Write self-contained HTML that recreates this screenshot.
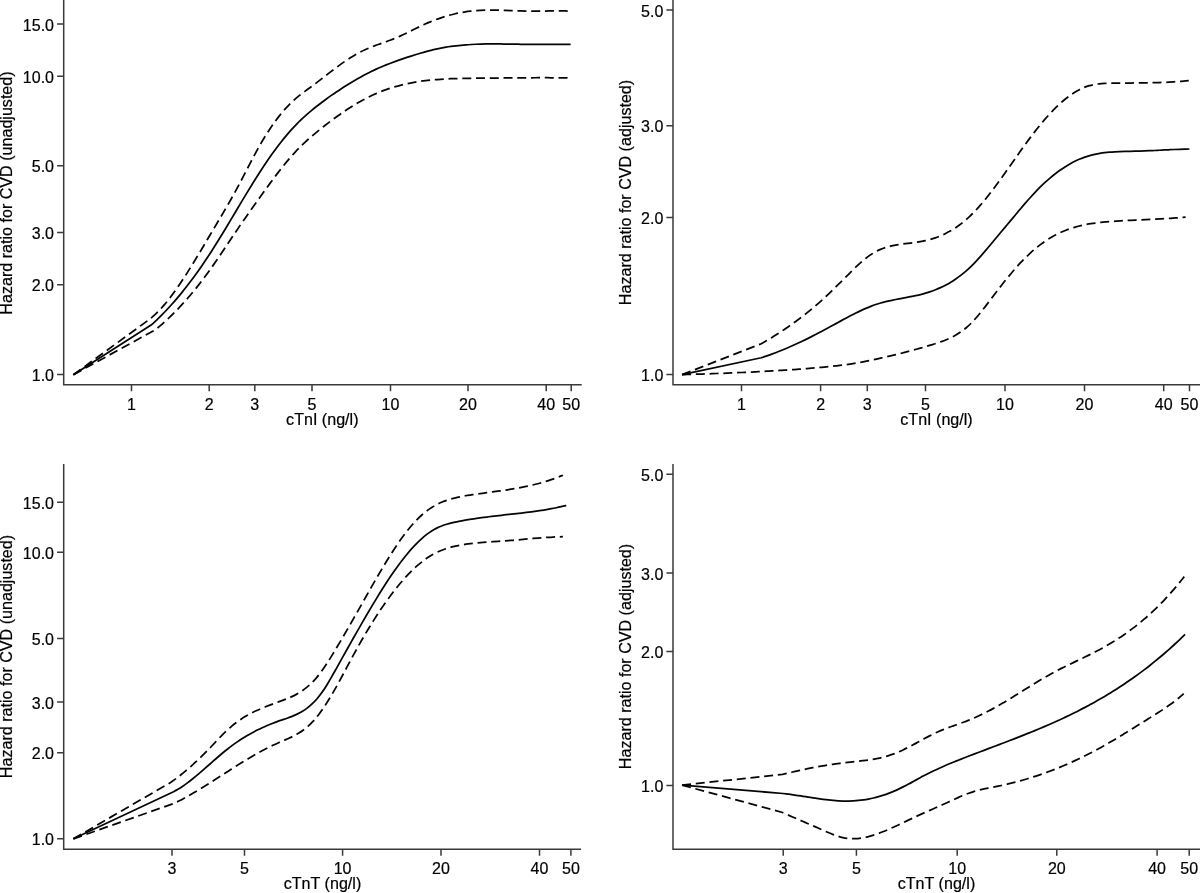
<!DOCTYPE html>
<html lang="en">
<head>
<meta charset="utf-8">
<title>Hazard ratio for CVD by cTnI and cTnT</title>
<style>
html,body{margin:0;padding:0;background:#fff;}
body{width:1200px;height:893px;overflow:hidden;}
svg{display:block;}
text{font-family:"Liberation Sans",Arial,Helvetica,sans-serif;fill:#000;stroke:#000;stroke-width:0.2px;}
.t{font-size:16px;}
.l{font-size:15.6px;}
.ax{stroke:#3a3a3a;stroke-width:1.5;fill:none;}
.s{stroke:#050505;stroke-width:1.75;fill:none;stroke-linejoin:round;}
.d{stroke:#050505;stroke-width:1.75;fill:none;stroke-dasharray:9 4.75;stroke-linejoin:round;}
</style>
</head>
<body>
<svg width="1200" height="893" viewBox="0 0 1200 893">
<rect x="0" y="0" width="1200" height="893" fill="#fff"/>
<g id="panel1">
<path class="ax" d="M63.70 0.00 V384.70 H581.70"/>
<path class="ax" d="M63.70 24.00 h-6.60 M63.70 76.30 h-6.60 M63.70 165.70 h-6.60 M63.70 232.50 h-6.60 M63.70 284.80 h-6.60 M63.70 374.40 h-6.60 M131.50 384.70 v6.60 M209.20 384.70 v6.60 M254.80 384.70 v6.60 M312.00 384.70 v6.60 M390.50 384.70 v6.60 M468.00 384.70 v6.60 M546.20 384.70 v6.60 M571.20 384.70 v6.60"/>
<text class="t" x="54.00" y="30.60" text-anchor="end">15.0</text>
<text class="t" x="54.00" y="82.90" text-anchor="end">10.0</text>
<text class="t" x="54.00" y="172.30" text-anchor="end">5.0</text>
<text class="t" x="54.00" y="239.10" text-anchor="end">3.0</text>
<text class="t" x="54.00" y="291.40" text-anchor="end">2.0</text>
<text class="t" x="54.00" y="381.00" text-anchor="end">1.0</text>
<text class="t" x="131.50" y="409.70" text-anchor="middle">1</text>
<text class="t" x="209.20" y="409.70" text-anchor="middle">2</text>
<text class="t" x="254.80" y="409.70" text-anchor="middle">3</text>
<text class="t" x="312.00" y="409.70" text-anchor="middle">5</text>
<text class="t" x="390.50" y="409.70" text-anchor="middle">10</text>
<text class="t" x="468.00" y="409.70" text-anchor="middle">20</text>
<text class="t" x="546.20" y="409.70" text-anchor="middle">40</text>
<text class="t" x="571.20" y="409.70" text-anchor="middle">50</text>
<text class="l" transform="translate(322.30 425.00) scale(1.0320 1)" text-anchor="middle">cTnI (ng/l)</text>
<text class="l" transform="translate(12.00 193.00) rotate(-90) scale(1.0320 1)" text-anchor="middle">Hazard ratio for CVD (unadjusted)</text>
<path class="d" d="M73.40 374.70 L149.40 319.40  C150.24 318.70 152.74 316.71 154.41 315.19 C156.09 313.66 157.76 312.01 159.43 310.25 C161.10 308.49 162.77 306.62 164.44 304.65 C166.11 302.69 167.79 300.61 169.46 298.46 C171.13 296.31 172.80 294.06 174.47 291.75 C176.14 289.43 177.81 287.03 179.49 284.58 C181.16 282.12 182.83 279.59 184.50 277.02 C186.17 274.45 187.84 271.81 189.51 269.14 C191.19 266.47 192.86 263.75 194.53 261.01 C196.20 258.27 197.87 255.49 199.54 252.70 C201.21 249.91 202.89 247.09 204.56 244.27 C206.23 241.45 207.90 238.61 209.57 235.79 C211.24 232.97 212.91 230.15 214.59 227.33 C216.26 224.51 217.93 221.71 219.60 218.88 C221.27 216.06 222.94 213.23 224.61 210.37 C226.29 207.50 227.96 204.62 229.63 201.69 C231.30 198.75 232.97 195.79 234.64 192.75 C236.31 189.71 237.99 186.61 239.66 183.46 C241.33 180.31 243.00 177.06 244.67 173.83 C246.34 170.61 248.01 167.32 249.69 164.11 C251.36 160.90 253.03 157.67 254.70 154.57 C256.37 151.47 258.04 148.42 259.71 145.49 C261.39 142.57 263.06 139.74 264.73 137.02 C266.40 134.30 268.07 131.69 269.74 129.17 C271.41 126.66 273.09 124.25 274.76 121.95 C276.43 119.64 278.10 117.44 279.77 115.34 C281.44 113.25 283.11 111.25 284.79 109.36 C286.46 107.47 288.13 105.69 289.80 104.01 C291.47 102.33 293.14 100.76 294.81 99.28 C296.49 97.80 298.16 96.46 299.83 95.14 C301.50 93.82 303.17 92.61 304.84 91.38 C306.51 90.15 308.19 88.97 309.86 87.74 C311.53 86.51 313.20 85.26 314.87 84.00 C316.54 82.74 318.21 81.46 319.89 80.17 C321.56 78.89 323.23 77.59 324.90 76.29 C326.57 75.00 328.24 73.70 329.91 72.42 C331.59 71.14 333.26 69.86 334.93 68.61 C336.60 67.35 338.27 66.11 339.94 64.90 C341.61 63.69 343.29 62.50 344.96 61.35 C346.63 60.21 348.30 59.09 349.97 58.02 C351.64 56.95 353.31 55.92 354.99 54.94 C356.66 53.97 358.33 53.05 360.00 52.18 C361.67 51.32 363.34 50.52 365.01 49.76 C366.69 49.00 368.36 48.30 370.03 47.63 C371.70 46.95 373.37 46.32 375.04 45.69 C376.71 45.06 378.39 44.47 380.06 43.87 C381.73 43.27 383.40 42.69 385.07 42.09 C386.74 41.49 388.41 40.90 390.09 40.27 C391.76 39.64 393.43 39.00 395.10 38.32 C396.77 37.63 398.44 36.91 400.11 36.16 C401.79 35.41 403.46 34.61 405.13 33.80 C406.80 33.00 408.47 32.16 410.14 31.33 C411.81 30.50 413.49 29.64 415.16 28.81 C416.83 27.98 418.50 27.15 420.17 26.35 C421.84 25.55 423.51 24.76 425.19 24.01 C426.86 23.26 428.53 22.54 430.20 21.85 C431.87 21.16 433.54 20.49 435.21 19.86 C436.89 19.23 438.56 18.62 440.23 18.05 C441.90 17.48 443.57 16.94 445.24 16.43 C446.91 15.92 448.59 15.44 450.26 14.99 C451.93 14.54 453.60 14.13 455.27 13.74 C456.94 13.36 458.61 13.01 460.29 12.69 C461.96 12.38 463.63 12.09 465.30 11.84 C466.97 11.59 468.64 11.37 470.31 11.18 C471.99 10.99 473.66 10.84 475.33 10.71 C477.00 10.57 478.67 10.47 480.34 10.39 C482.01 10.30 483.69 10.25 485.36 10.20 C487.03 10.16 488.70 10.14 490.37 10.13 C492.04 10.13 493.71 10.14 495.39 10.16 C497.06 10.18 498.73 10.21 500.40 10.25 C502.07 10.29 503.74 10.34 505.41 10.39 C507.09 10.45 508.76 10.51 510.43 10.57 C512.10 10.62 513.77 10.69 515.44 10.74 C517.11 10.80 518.79 10.86 520.46 10.90 C522.13 10.95 523.80 11.00 525.47 11.03 C527.14 11.06 528.81 11.08 530.49 11.10 C532.16 11.11 533.83 11.11 535.50 11.11 C537.17 11.11 538.84 11.09 540.51 11.08 C542.19 11.07 543.86 11.05 545.53 11.03 C547.20 11.02 548.87 11.00 550.54 10.98 C552.21 10.97 553.89 10.95 555.56 10.94 C557.23 10.94 558.90 10.93 560.57 10.94 C562.24 10.95 563.91 10.96 565.59 10.99 C567.26 11.01 569.76 11.08 570.60 11.10"/>
<path class="d" d="M73.40 374.70 L155.00 330.00  C155.83 329.32 158.34 327.31 160.01 325.90 C161.68 324.49 163.35 323.03 165.01 321.52 C166.68 320.01 168.35 318.46 170.02 316.86 C171.69 315.26 173.36 313.61 175.03 311.92 C176.70 310.23 178.37 308.49 180.04 306.71 C181.71 304.92 183.37 303.09 185.04 301.21 C186.71 299.34 188.38 297.42 190.05 295.45 C191.72 293.48 193.39 291.47 195.06 289.41 C196.73 287.35 198.40 285.25 200.07 283.10 C201.73 280.95 203.40 278.76 205.07 276.52 C206.74 274.28 208.41 272.00 210.08 269.67 C211.75 267.34 213.42 264.96 215.09 262.55 C216.76 260.14 218.42 257.68 220.09 255.21 C221.76 252.75 223.43 250.24 225.10 247.74 C226.77 245.24 228.44 242.72 230.11 240.22 C231.78 237.72 233.45 235.21 235.12 232.74 C236.78 230.27 238.45 227.81 240.12 225.38 C241.79 222.96 243.46 220.56 245.13 218.17 C246.80 215.78 248.47 213.42 250.14 211.06 C251.81 208.71 253.48 206.37 255.14 204.02 C256.81 201.68 258.48 199.34 260.15 197.01 C261.82 194.67 263.49 192.34 265.16 190.02 C266.83 187.71 268.50 185.41 270.17 183.14 C271.84 180.86 273.50 178.61 275.17 176.39 C276.84 174.18 278.51 171.99 280.18 169.86 C281.85 167.73 283.52 165.63 285.19 163.59 C286.86 161.55 288.53 159.56 290.20 157.64 C291.86 155.72 293.53 153.85 295.20 152.06 C296.87 150.28 298.54 148.56 300.21 146.90 C301.88 145.24 303.55 143.66 305.22 142.11 C306.89 140.56 308.56 139.07 310.22 137.61 C311.89 136.15 313.56 134.75 315.23 133.35 C316.90 131.96 318.57 130.61 320.24 129.27 C321.91 127.92 323.58 126.60 325.25 125.30 C326.91 124.00 328.58 122.71 330.25 121.45 C331.92 120.19 333.59 118.95 335.26 117.74 C336.93 116.52 338.60 115.33 340.27 114.16 C341.94 113.00 343.61 111.85 345.27 110.74 C346.94 109.62 348.61 108.53 350.28 107.47 C351.95 106.41 353.62 105.38 355.29 104.38 C356.96 103.38 358.63 102.41 360.30 101.47 C361.97 100.53 363.63 99.62 365.30 98.75 C366.97 97.87 368.64 97.03 370.31 96.23 C371.98 95.42 373.65 94.65 375.32 93.92 C376.99 93.18 378.66 92.48 380.33 91.81 C381.99 91.15 383.66 90.52 385.33 89.91 C387.00 89.31 388.67 88.74 390.34 88.20 C392.01 87.66 393.68 87.15 395.35 86.67 C397.02 86.19 398.69 85.74 400.35 85.31 C402.02 84.88 403.69 84.48 405.36 84.10 C407.03 83.73 408.70 83.38 410.37 83.05 C412.04 82.72 413.71 82.42 415.38 82.13 C417.04 81.85 418.71 81.59 420.38 81.34 C422.05 81.10 423.72 80.88 425.39 80.67 C427.06 80.47 428.73 80.28 430.40 80.11 C432.07 79.94 433.74 79.79 435.40 79.65 C437.07 79.51 438.74 79.38 440.41 79.27 C442.08 79.16 443.75 79.06 445.42 78.97 C447.09 78.88 448.76 78.81 450.43 78.74 C452.10 78.67 453.76 78.61 455.43 78.56 C457.10 78.51 458.77 78.47 460.44 78.43 C462.11 78.40 463.78 78.37 465.45 78.34 C467.12 78.32 468.79 78.30 470.46 78.28 C472.12 78.26 473.79 78.24 475.46 78.23 C477.13 78.21 478.80 78.20 480.47 78.19 C482.14 78.17 483.81 78.16 485.48 78.14 C487.15 78.13 488.82 78.11 490.48 78.10 C492.15 78.08 493.82 78.06 495.49 78.05 C497.16 78.03 498.83 78.02 500.50 78.00 C502.17 77.99 503.84 77.97 505.51 77.95 C507.18 77.94 508.84 77.92 510.51 77.91 C512.18 77.90 513.85 77.88 515.52 77.87 C517.19 77.86 518.86 77.84 520.53 77.83 C522.20 77.82 523.87 77.81 525.53 77.80 C527.20 77.79 528.87 77.78 530.54 77.77 C532.21 77.77 533.88 77.76 535.55 77.75 C537.22 77.75 538.89 77.75 540.56 77.74 C542.23 77.74 543.89 77.74 545.56 77.74 C547.23 77.74 548.90 77.75 550.57 77.75 C552.24 77.75 553.91 77.76 555.58 77.77 C557.25 77.78 558.92 77.79 560.59 77.80 C562.25 77.81 563.92 77.83 565.59 77.84 C567.26 77.86 569.77 77.89 570.60 77.90"/>
<path class="s" d="M73.40 374.70 L151.90 324.40  C152.73 323.63 155.22 321.37 156.88 319.78 C158.55 318.20 160.21 316.57 161.87 314.89 C163.53 313.22 165.19 311.49 166.85 309.73 C168.52 307.96 170.18 306.14 171.84 304.28 C173.50 302.42 175.16 300.52 176.82 298.57 C178.48 296.62 180.15 294.62 181.81 292.58 C183.47 290.53 185.13 288.45 186.79 286.31 C188.45 284.18 190.11 282.00 191.78 279.78 C193.44 277.56 195.10 275.29 196.76 272.98 C198.42 270.66 200.08 268.31 201.75 265.90 C203.41 263.50 205.07 261.05 206.73 258.56 C208.39 256.07 210.05 253.53 211.71 250.95 C213.38 248.37 215.04 245.74 216.70 243.08 C218.36 240.42 220.02 237.71 221.68 234.99 C223.34 232.27 225.01 229.51 226.67 226.74 C228.33 223.98 229.99 221.19 231.65 218.40 C233.31 215.61 234.98 212.80 236.64 210.01 C238.30 207.21 239.96 204.41 241.62 201.63 C243.28 198.85 244.94 196.08 246.61 193.33 C248.27 190.59 249.93 187.86 251.59 185.17 C253.25 182.48 254.91 179.81 256.58 177.19 C258.24 174.58 259.90 171.99 261.56 169.46 C263.22 166.94 264.88 164.45 266.54 162.01 C268.21 159.58 269.87 157.19 271.53 154.86 C273.19 152.53 274.85 150.25 276.51 148.04 C278.17 145.82 279.84 143.65 281.50 141.55 C283.16 139.45 284.82 137.40 286.48 135.43 C288.14 133.45 289.81 131.53 291.47 129.69 C293.13 127.84 294.79 126.07 296.45 124.36 C298.11 122.65 299.77 121.02 301.44 119.43 C303.10 117.85 304.76 116.33 306.42 114.85 C308.08 113.38 309.74 111.96 311.40 110.57 C313.07 109.19 314.73 107.85 316.39 106.53 C318.05 105.22 319.71 103.94 321.37 102.68 C323.04 101.42 324.70 100.18 326.36 98.97 C328.02 97.76 329.68 96.57 331.34 95.40 C333.00 94.24 334.67 93.09 336.33 91.97 C337.99 90.85 339.65 89.75 341.31 88.67 C342.97 87.59 344.63 86.53 346.30 85.49 C347.96 84.45 349.62 83.43 351.28 82.43 C352.94 81.43 354.60 80.45 356.27 79.49 C357.93 78.54 359.59 77.60 361.25 76.69 C362.91 75.78 364.57 74.89 366.23 74.03 C367.90 73.17 369.56 72.33 371.22 71.52 C372.88 70.71 374.54 69.93 376.20 69.17 C377.87 68.41 379.53 67.68 381.19 66.97 C382.85 66.25 384.51 65.57 386.17 64.90 C387.83 64.23 389.50 63.58 391.16 62.95 C392.82 62.32 394.48 61.71 396.14 61.11 C397.80 60.51 399.46 59.93 401.13 59.35 C402.79 58.78 404.45 58.22 406.11 57.67 C407.77 57.12 409.43 56.58 411.10 56.05 C412.76 55.52 414.42 54.99 416.08 54.48 C417.74 53.97 419.40 53.47 421.06 52.99 C422.73 52.50 424.39 52.03 426.05 51.58 C427.71 51.13 429.37 50.69 431.03 50.28 C432.69 49.87 434.36 49.48 436.02 49.11 C437.68 48.75 439.34 48.41 441.00 48.09 C442.66 47.77 444.33 47.47 445.99 47.20 C447.65 46.92 449.31 46.67 450.97 46.44 C452.63 46.20 454.29 45.99 455.96 45.79 C457.62 45.60 459.28 45.42 460.94 45.26 C462.60 45.10 464.26 44.96 465.93 44.83 C467.59 44.70 469.25 44.59 470.91 44.50 C472.57 44.40 474.23 44.32 475.89 44.25 C477.56 44.18 479.22 44.12 480.88 44.08 C482.54 44.03 484.20 44.00 485.86 43.97 C487.52 43.95 489.19 43.94 490.85 43.93 C492.51 43.92 494.17 43.92 495.83 43.93 C497.49 43.94 499.16 43.95 500.82 43.97 C502.48 43.98 504.14 44.01 505.80 44.03 C507.46 44.05 509.12 44.08 510.79 44.11 C512.45 44.14 514.11 44.17 515.77 44.19 C517.43 44.22 519.09 44.24 520.75 44.27 C522.42 44.29 524.08 44.31 525.74 44.33 C527.40 44.34 529.06 44.35 530.72 44.36 C532.39 44.36 534.05 44.37 535.71 44.36 C537.37 44.36 539.03 44.36 540.69 44.35 C542.35 44.35 544.02 44.34 545.68 44.33 C547.34 44.33 549.00 44.32 550.66 44.31 C552.32 44.31 553.98 44.30 555.65 44.30 C557.31 44.30 558.97 44.30 560.63 44.31 C562.29 44.31 563.95 44.32 565.62 44.34 C567.28 44.35 569.77 44.39 570.60 44.40"/>
</g>
<g id="panel2">
<path class="ax" d="M673.00 0.00 V384.70 H1200.00"/>
<path class="ax" d="M673.00 10.00 h-6.60 M673.00 125.70 h-6.60 M673.00 217.50 h-6.60 M673.00 374.40 h-6.60 M741.50 384.70 v6.60 M820.60 384.70 v6.60 M867.30 384.70 v6.60 M925.50 384.70 v6.60 M1005.00 384.70 v6.60 M1084.50 384.70 v6.60 M1163.70 384.70 v6.60 M1189.50 384.70 v6.60"/>
<text class="t" x="663.30" y="16.60" text-anchor="end">5.0</text>
<text class="t" x="663.30" y="132.30" text-anchor="end">3.0</text>
<text class="t" x="663.30" y="224.10" text-anchor="end">2.0</text>
<text class="t" x="663.30" y="381.00" text-anchor="end">1.0</text>
<text class="t" x="741.50" y="409.70" text-anchor="middle">1</text>
<text class="t" x="820.60" y="409.70" text-anchor="middle">2</text>
<text class="t" x="867.30" y="409.70" text-anchor="middle">3</text>
<text class="t" x="925.50" y="409.70" text-anchor="middle">5</text>
<text class="t" x="1005.00" y="409.70" text-anchor="middle">10</text>
<text class="t" x="1084.50" y="409.70" text-anchor="middle">20</text>
<text class="t" x="1163.70" y="409.70" text-anchor="middle">40</text>
<text class="t" x="1189.50" y="409.70" text-anchor="middle">50</text>
<text class="l" transform="translate(936.50 425.00) scale(1.0320 1)" text-anchor="middle">cTnI (ng/l)</text>
<text class="l" transform="translate(631.20 192.50) rotate(-90) scale(1.0320 1)" text-anchor="middle">Hazard ratio for CVD (adjusted)</text>
<path class="d" d="M682.10 374.60 L761.25 343.75  C762.08 343.27 764.56 341.84 766.22 340.86 C767.88 339.88 769.53 338.89 771.19 337.88 C772.85 336.87 774.51 335.84 776.16 334.79 C777.82 333.74 779.48 332.68 781.13 331.59 C782.79 330.51 784.45 329.40 786.10 328.27 C787.76 327.15 789.42 326.00 791.08 324.83 C792.73 323.66 794.39 322.47 796.05 321.25 C797.70 320.03 799.36 318.79 801.02 317.52 C802.67 316.26 804.33 314.97 805.99 313.65 C807.65 312.33 809.30 310.99 810.96 309.62 C812.62 308.24 814.27 306.85 815.93 305.42 C817.59 303.99 819.24 302.53 820.90 301.04 C822.56 299.55 824.22 298.03 825.87 296.49 C827.53 294.94 829.19 293.37 830.84 291.78 C832.50 290.19 834.16 288.57 835.81 286.95 C837.47 285.32 839.13 283.67 840.78 282.02 C842.44 280.37 844.10 278.70 845.76 277.04 C847.41 275.38 849.07 273.70 850.73 272.06 C852.38 270.43 854.04 268.79 855.70 267.22 C857.35 265.65 859.01 264.11 860.67 262.65 C862.33 261.19 863.98 259.77 865.64 258.46 C867.30 257.15 868.95 255.91 870.61 254.80 C872.27 253.68 873.92 252.67 875.58 251.77 C877.24 250.87 878.90 250.08 880.55 249.38 C882.21 248.67 883.87 248.07 885.52 247.52 C887.18 246.98 888.84 246.52 890.49 246.11 C892.15 245.70 893.81 245.36 895.47 245.05 C897.12 244.74 898.78 244.49 900.44 244.25 C902.09 244.00 903.75 243.80 905.41 243.60 C907.06 243.39 908.72 243.21 910.38 243.01 C912.03 242.81 913.69 242.62 915.35 242.39 C917.01 242.16 918.66 241.93 920.32 241.64 C921.98 241.36 923.63 241.04 925.29 240.67 C926.95 240.30 928.60 239.89 930.26 239.42 C931.92 238.95 933.58 238.43 935.23 237.86 C936.89 237.28 938.55 236.65 940.20 235.96 C941.86 235.27 943.52 234.52 945.17 233.71 C946.83 232.89 948.49 232.01 950.15 231.06 C951.80 230.12 953.46 229.10 955.12 228.01 C956.77 226.92 958.43 225.76 960.09 224.52 C961.74 223.28 963.40 221.96 965.06 220.56 C966.72 219.16 968.37 217.68 970.03 216.12 C971.69 214.55 973.34 212.89 975.00 211.15 C976.66 209.42 978.31 207.59 979.97 205.70 C981.63 203.81 983.28 201.83 984.94 199.81 C986.60 197.79 988.26 195.69 989.91 193.56 C991.57 191.43 993.23 189.23 994.88 187.01 C996.54 184.79 998.20 182.52 999.85 180.23 C1001.51 177.94 1003.17 175.62 1004.83 173.28 C1006.48 170.95 1008.14 168.59 1009.80 166.24 C1011.45 163.88 1013.11 161.51 1014.77 159.16 C1016.42 156.81 1018.08 154.45 1019.74 152.11 C1021.40 149.78 1023.05 147.46 1024.71 145.17 C1026.37 142.88 1028.02 140.61 1029.68 138.39 C1031.34 136.17 1032.99 133.97 1034.65 131.84 C1036.31 129.70 1037.97 127.61 1039.62 125.58 C1041.28 123.55 1042.94 121.57 1044.59 119.65 C1046.25 117.74 1047.91 115.87 1049.56 114.08 C1051.22 112.29 1052.88 110.55 1054.53 108.89 C1056.19 107.23 1057.85 105.64 1059.51 104.12 C1061.16 102.60 1062.82 101.15 1064.48 99.78 C1066.13 98.41 1067.79 97.12 1069.45 95.91 C1071.10 94.71 1072.76 93.58 1074.42 92.54 C1076.08 91.50 1077.73 90.55 1079.39 89.69 C1081.05 88.84 1082.70 88.07 1084.36 87.40 C1086.02 86.73 1087.67 86.16 1089.33 85.68 C1090.99 85.20 1092.65 84.83 1094.30 84.51 C1095.96 84.20 1097.62 83.97 1099.27 83.79 C1100.93 83.60 1102.59 83.48 1104.24 83.39 C1105.90 83.29 1107.56 83.25 1109.22 83.21 C1110.87 83.16 1112.53 83.15 1114.19 83.13 C1115.84 83.11 1117.50 83.09 1119.16 83.08 C1120.81 83.07 1122.47 83.06 1124.13 83.05 C1125.78 83.04 1127.44 83.03 1129.10 83.02 C1130.76 83.01 1132.41 83.00 1134.07 82.99 C1135.73 82.98 1137.38 82.97 1139.04 82.95 C1140.70 82.93 1142.35 82.92 1144.01 82.89 C1145.67 82.87 1147.33 82.84 1148.98 82.81 C1150.64 82.78 1152.30 82.74 1153.95 82.70 C1155.61 82.65 1157.27 82.61 1158.92 82.55 C1160.58 82.49 1162.24 82.43 1163.90 82.36 C1165.55 82.29 1167.21 82.21 1168.87 82.13 C1170.52 82.04 1172.18 81.94 1173.84 81.84 C1175.49 81.73 1177.15 81.62 1178.81 81.49 C1180.47 81.36 1182.12 81.23 1183.78 81.08 C1185.44 80.93 1187.92 80.68 1188.75 80.60"/>
<path class="d" d="M682.10 374.60 C682.93 374.58 685.42 374.51 687.09 374.46 C688.75 374.41 690.41 374.36 692.07 374.32 C693.73 374.27 695.39 374.22 697.06 374.17 C698.72 374.11 700.38 374.06 702.04 374.01 C703.70 373.96 705.36 373.90 707.03 373.85 C708.69 373.79 710.35 373.74 712.01 373.68 C713.67 373.62 715.33 373.56 717.00 373.50 C718.66 373.44 720.32 373.38 721.98 373.32 C723.64 373.26 725.30 373.19 726.97 373.13 C728.63 373.06 730.29 372.99 731.95 372.93 C733.61 372.86 735.27 372.79 736.94 372.72 C738.60 372.64 740.26 372.57 741.92 372.50 C743.58 372.42 745.25 372.35 746.91 372.27 C748.57 372.19 750.23 372.11 751.89 372.03 C753.55 371.95 755.22 371.86 756.88 371.78 C758.54 371.69 760.20 371.60 761.86 371.52 C763.52 371.43 765.19 371.33 766.85 371.24 C768.51 371.15 770.17 371.05 771.83 370.96 C773.49 370.86 775.16 370.76 776.82 370.66 C778.48 370.56 780.14 370.45 781.80 370.35 C783.46 370.24 785.13 370.13 786.79 370.02 C788.45 369.91 790.11 369.80 791.77 369.68 C793.43 369.57 795.10 369.45 796.76 369.33 C798.42 369.21 800.08 369.08 801.74 368.96 C803.41 368.83 805.07 368.70 806.73 368.57 C808.39 368.44 810.05 368.31 811.71 368.17 C813.38 368.04 815.04 367.90 816.70 367.76 C818.36 367.61 820.02 367.47 821.68 367.32 C823.35 367.17 825.01 367.02 826.67 366.86 C828.33 366.69 829.99 366.53 831.65 366.35 C833.32 366.18 834.98 366.00 836.64 365.80 C838.30 365.61 839.96 365.41 841.62 365.20 C843.29 364.99 844.95 364.76 846.61 364.53 C848.27 364.29 849.93 364.05 851.60 363.79 C853.26 363.52 854.92 363.25 856.58 362.96 C858.24 362.68 859.90 362.37 861.57 362.06 C863.23 361.76 864.89 361.43 866.55 361.11 C868.21 360.78 869.87 360.44 871.54 360.10 C873.20 359.76 874.86 359.41 876.52 359.06 C878.18 358.70 879.84 358.34 881.51 357.97 C883.17 357.60 884.83 357.23 886.49 356.84 C888.15 356.46 889.81 356.07 891.48 355.68 C893.14 355.28 894.80 354.88 896.46 354.47 C898.12 354.06 899.78 353.65 901.45 353.23 C903.11 352.80 904.77 352.37 906.43 351.94 C908.09 351.50 909.76 351.06 911.42 350.61 C913.08 350.16 914.74 349.70 916.40 349.24 C918.06 348.77 919.73 348.30 921.39 347.82 C923.05 347.35 924.71 346.86 926.37 346.37 C928.03 345.88 929.70 345.38 931.36 344.87 C933.02 344.36 934.68 343.86 936.34 343.32 C938.00 342.78 939.67 342.24 941.33 341.64 C942.99 341.05 944.65 340.43 946.31 339.74 C947.97 339.05 949.64 338.32 951.30 337.50 C952.96 336.68 954.62 335.81 956.28 334.83 C957.94 333.84 959.61 332.79 961.27 331.61 C962.93 330.43 964.59 329.15 966.25 327.74 C967.92 326.32 969.58 324.79 971.24 323.12 C972.90 321.45 974.56 319.63 976.22 317.73 C977.89 315.84 979.55 313.82 981.21 311.76 C982.87 309.70 984.53 307.54 986.19 305.38 C987.86 303.22 989.52 301.00 991.18 298.80 C992.84 296.61 994.50 294.39 996.16 292.21 C997.83 290.04 999.49 287.87 1001.15 285.75 C1002.81 283.63 1004.47 281.53 1006.13 279.48 C1007.80 277.43 1009.46 275.41 1011.12 273.44 C1012.78 271.47 1014.44 269.54 1016.10 267.67 C1017.77 265.80 1019.43 263.97 1021.09 262.22 C1022.75 260.46 1024.41 258.75 1026.08 257.12 C1027.74 255.49 1029.40 253.92 1031.06 252.41 C1032.72 250.91 1034.38 249.47 1036.05 248.10 C1037.71 246.72 1039.37 245.41 1041.03 244.17 C1042.69 242.93 1044.35 241.75 1046.02 240.63 C1047.68 239.52 1049.34 238.47 1051.00 237.48 C1052.66 236.50 1054.32 235.58 1055.99 234.72 C1057.65 233.85 1059.31 233.05 1060.97 232.30 C1062.63 231.55 1064.29 230.86 1065.96 230.22 C1067.62 229.57 1069.28 228.98 1070.94 228.43 C1072.60 227.88 1074.27 227.38 1075.93 226.91 C1077.59 226.45 1079.25 226.03 1080.91 225.64 C1082.57 225.25 1084.24 224.90 1085.90 224.58 C1087.56 224.26 1089.22 223.97 1090.88 223.71 C1092.54 223.44 1094.21 223.21 1095.87 222.99 C1097.53 222.78 1099.19 222.59 1100.85 222.41 C1102.51 222.23 1104.18 222.08 1105.84 221.93 C1107.50 221.78 1109.16 221.65 1110.82 221.53 C1112.48 221.40 1114.15 221.28 1115.81 221.17 C1117.47 221.06 1119.13 220.95 1120.79 220.85 C1122.45 220.75 1124.12 220.65 1125.78 220.55 C1127.44 220.46 1129.10 220.37 1130.76 220.28 C1132.43 220.20 1134.09 220.11 1135.75 220.03 C1137.41 219.95 1139.07 219.87 1140.73 219.79 C1142.40 219.71 1144.06 219.63 1145.72 219.55 C1147.38 219.47 1149.04 219.39 1150.70 219.31 C1152.37 219.23 1154.03 219.15 1155.69 219.07 C1157.35 218.99 1159.01 218.91 1160.67 218.82 C1162.34 218.73 1164.00 218.64 1165.66 218.55 C1167.32 218.46 1168.98 218.36 1170.64 218.26 C1172.31 218.16 1173.97 218.05 1175.63 217.94 C1177.29 217.83 1178.95 217.71 1180.61 217.59 C1182.28 217.47 1184.77 217.26 1185.60 217.20"/>
<path class="s" d="M682.10 374.60 L761.25 357.75  C762.08 357.48 764.57 356.68 766.23 356.11 C767.89 355.54 769.55 354.96 771.21 354.36 C772.87 353.75 774.53 353.13 776.19 352.49 C777.84 351.86 779.50 351.20 781.16 350.53 C782.82 349.86 784.48 349.17 786.14 348.47 C787.80 347.76 789.46 347.04 791.12 346.31 C792.78 345.58 794.44 344.83 796.10 344.07 C797.76 343.31 799.42 342.53 801.08 341.74 C802.74 340.95 804.40 340.15 806.06 339.34 C807.72 338.52 809.38 337.70 811.03 336.86 C812.69 336.03 814.35 335.18 816.01 334.32 C817.67 333.46 819.33 332.59 820.99 331.72 C822.65 330.84 824.31 329.95 825.97 329.06 C827.63 328.16 829.29 327.26 830.95 326.35 C832.61 325.44 834.27 324.52 835.93 323.61 C837.59 322.70 839.25 321.78 840.91 320.88 C842.57 319.97 844.22 319.07 845.88 318.18 C847.54 317.29 849.20 316.41 850.86 315.55 C852.52 314.69 854.18 313.84 855.84 313.02 C857.50 312.20 859.16 311.40 860.82 310.62 C862.48 309.85 864.14 309.10 865.80 308.39 C867.46 307.68 869.12 306.99 870.78 306.35 C872.44 305.71 874.10 305.10 875.76 304.54 C877.41 303.98 879.07 303.46 880.73 302.98 C882.39 302.50 884.05 302.07 885.71 301.66 C887.37 301.25 889.03 300.88 890.69 300.52 C892.35 300.17 894.01 299.84 895.67 299.51 C897.33 299.19 898.99 298.89 900.65 298.58 C902.31 298.27 903.97 297.98 905.63 297.67 C907.29 297.36 908.95 297.06 910.60 296.73 C912.26 296.40 913.92 296.07 915.58 295.71 C917.24 295.34 918.90 294.97 920.56 294.55 C922.22 294.13 923.88 293.69 925.54 293.20 C927.20 292.71 928.86 292.19 930.52 291.62 C932.18 291.05 933.84 290.44 935.50 289.78 C937.16 289.12 938.82 288.42 940.48 287.66 C942.14 286.89 943.79 286.08 945.45 285.21 C947.11 284.34 948.77 283.41 950.43 282.41 C952.09 281.42 953.75 280.36 955.41 279.24 C957.07 278.11 958.73 276.92 960.39 275.65 C962.05 274.38 963.71 273.04 965.37 271.62 C967.03 270.20 968.69 268.70 970.35 267.12 C972.01 265.54 973.67 263.86 975.33 262.12 C976.98 260.38 978.64 258.55 980.30 256.68 C981.96 254.81 983.62 252.87 985.28 250.92 C986.94 248.97 988.60 246.97 990.26 244.97 C991.92 242.97 993.58 240.95 995.24 238.95 C996.90 236.95 998.56 234.96 1000.22 232.98 C1001.88 231.01 1003.54 229.05 1005.20 227.09 C1006.86 225.12 1008.51 223.16 1010.17 221.18 C1011.83 219.21 1013.49 217.21 1015.15 215.23 C1016.81 213.24 1018.47 211.24 1020.13 209.28 C1021.79 207.31 1023.45 205.34 1025.11 203.42 C1026.77 201.49 1028.43 199.59 1030.09 197.74 C1031.75 195.88 1033.41 194.07 1035.07 192.31 C1036.73 190.56 1038.39 188.86 1040.05 187.22 C1041.70 185.58 1043.36 184.00 1045.02 182.47 C1046.68 180.95 1048.34 179.48 1050.00 178.07 C1051.66 176.66 1053.32 175.31 1054.98 174.02 C1056.64 172.73 1058.30 171.49 1059.96 170.32 C1061.62 169.14 1063.28 168.03 1064.94 166.97 C1066.60 165.91 1068.26 164.91 1069.92 163.97 C1071.58 163.03 1073.24 162.15 1074.89 161.33 C1076.55 160.51 1078.21 159.75 1079.87 159.05 C1081.53 158.35 1083.19 157.71 1084.85 157.13 C1086.51 156.55 1088.17 156.03 1089.83 155.56 C1091.49 155.09 1093.15 154.68 1094.81 154.32 C1096.47 153.95 1098.13 153.63 1099.79 153.35 C1101.45 153.07 1103.11 152.84 1104.77 152.64 C1106.43 152.43 1108.08 152.27 1109.74 152.12 C1111.40 151.98 1113.06 151.87 1114.72 151.77 C1116.38 151.68 1118.04 151.61 1119.70 151.55 C1121.36 151.49 1123.02 151.45 1124.68 151.41 C1126.34 151.37 1128.00 151.35 1129.66 151.32 C1131.32 151.29 1132.98 151.27 1134.64 151.23 C1136.30 151.20 1137.96 151.16 1139.62 151.11 C1141.27 151.07 1142.93 151.01 1144.59 150.95 C1146.25 150.88 1147.91 150.81 1149.57 150.74 C1151.23 150.67 1152.89 150.58 1154.55 150.50 C1156.21 150.42 1157.87 150.33 1159.53 150.25 C1161.19 150.16 1162.85 150.08 1164.51 149.99 C1166.17 149.90 1167.83 149.82 1169.49 149.74 C1171.15 149.65 1172.81 149.57 1174.46 149.50 C1176.12 149.42 1177.78 149.35 1179.44 149.29 C1181.10 149.23 1182.76 149.17 1184.42 149.12 C1186.08 149.07 1188.57 149.02 1189.40 149.00"/>
</g>
<g id="panel3">
<path class="ax" d="M63.70 464.00 V849.20 H581.00"/>
<path class="ax" d="M63.70 502.20 h-6.60 M63.70 552.20 h-6.60 M63.70 638.50 h-6.60 M63.70 702.10 h-6.60 M63.70 752.70 h-6.60 M63.70 838.80 h-6.60 M172.00 849.20 v6.60 M244.50 849.20 v6.60 M342.60 849.20 v6.60 M441.00 849.20 v6.60 M539.50 849.20 v6.60 M570.90 849.20 v6.60"/>
<text class="t" x="54.00" y="508.80" text-anchor="end">15.0</text>
<text class="t" x="54.00" y="558.80" text-anchor="end">10.0</text>
<text class="t" x="54.00" y="645.10" text-anchor="end">5.0</text>
<text class="t" x="54.00" y="708.70" text-anchor="end">3.0</text>
<text class="t" x="54.00" y="759.30" text-anchor="end">2.0</text>
<text class="t" x="54.00" y="845.40" text-anchor="end">1.0</text>
<text class="t" x="172.00" y="874.20" text-anchor="middle">3</text>
<text class="t" x="244.50" y="874.20" text-anchor="middle">5</text>
<text class="t" x="342.60" y="874.20" text-anchor="middle">10</text>
<text class="t" x="441.00" y="874.20" text-anchor="middle">20</text>
<text class="t" x="539.50" y="874.20" text-anchor="middle">40</text>
<text class="t" x="570.90" y="874.20" text-anchor="middle">50</text>
<text class="l" transform="translate(322.50 889.00) scale(1.0320 1)" text-anchor="middle">cTnT (ng/l)</text>
<text class="l" transform="translate(12.00 656.50) rotate(-90) scale(1.0320 1)" text-anchor="middle">Hazard ratio for CVD (unadjusted)</text>
<path class="d" d="M73.40 838.80 L170.60 782.50  C171.44 781.90 173.95 780.13 175.63 778.88 C177.31 777.64 178.98 776.35 180.66 775.02 C182.34 773.69 184.01 772.31 185.69 770.90 C187.36 769.49 189.04 768.04 190.72 766.56 C192.39 765.07 194.07 763.54 195.75 761.98 C197.42 760.42 199.10 758.82 200.78 757.19 C202.45 755.56 204.13 753.89 205.81 752.19 C207.48 750.49 209.16 748.74 210.84 746.99 C212.51 745.23 214.19 743.42 215.87 741.65 C217.54 739.88 219.22 738.08 220.89 736.37 C222.57 734.65 224.25 732.95 225.92 731.36 C227.60 729.77 229.28 728.25 230.95 726.83 C232.63 725.40 234.31 724.07 235.98 722.81 C237.66 721.54 239.34 720.36 241.01 719.25 C242.69 718.13 244.37 717.09 246.04 716.10 C247.72 715.11 249.40 714.18 251.07 713.30 C252.75 712.42 254.42 711.59 256.10 710.80 C257.78 710.01 259.45 709.27 261.13 708.55 C262.81 707.83 264.48 707.16 266.16 706.49 C267.84 705.83 269.51 705.20 271.19 704.57 C272.87 703.94 274.54 703.34 276.22 702.73 C277.90 702.12 279.57 701.54 281.25 700.92 C282.93 700.30 284.60 699.68 286.28 699.01 C287.95 698.34 289.63 697.65 291.31 696.87 C292.98 696.10 294.66 695.29 296.34 694.37 C298.01 693.45 299.69 692.46 301.37 691.35 C303.04 690.23 304.72 689.03 306.40 687.68 C308.07 686.32 309.75 684.86 311.43 683.21 C313.10 681.57 314.78 679.79 316.46 677.82 C318.13 675.85 319.81 673.68 321.48 671.38 C323.16 669.09 324.84 666.60 326.51 664.05 C328.19 661.51 329.87 658.81 331.54 656.10 C333.22 653.39 334.90 650.59 336.57 647.79 C338.25 644.99 339.93 642.16 341.60 639.30 C343.28 636.45 344.96 633.57 346.63 630.68 C348.31 627.78 349.99 624.86 351.66 621.93 C353.34 619.00 355.01 616.06 356.69 613.10 C358.37 610.15 360.04 607.18 361.72 604.21 C363.40 601.24 365.07 598.26 366.75 595.30 C368.43 592.34 370.10 589.37 371.78 586.43 C373.46 583.49 375.13 580.56 376.81 577.67 C378.49 574.78 380.16 571.91 381.84 569.09 C383.51 566.27 385.19 563.48 386.87 560.75 C388.54 558.02 390.22 555.33 391.90 552.72 C393.57 550.10 395.25 547.54 396.93 545.06 C398.60 542.58 400.28 540.17 401.96 537.85 C403.63 535.53 405.31 533.28 406.99 531.14 C408.66 529.00 410.34 526.95 412.02 525.01 C413.69 523.07 415.37 521.23 417.04 519.52 C418.72 517.80 420.40 516.21 422.07 514.73 C423.75 513.25 425.43 511.91 427.10 510.66 C428.78 509.41 430.46 508.27 432.13 507.23 C433.81 506.18 435.49 505.24 437.16 504.38 C438.84 503.51 440.52 502.74 442.19 502.03 C443.87 501.32 445.55 500.70 447.22 500.13 C448.90 499.55 450.57 499.05 452.25 498.59 C453.93 498.12 455.60 497.72 457.28 497.34 C458.96 496.97 460.63 496.64 462.31 496.33 C463.99 496.01 465.66 495.74 467.34 495.47 C469.02 495.20 470.69 494.95 472.37 494.70 C474.05 494.45 475.72 494.21 477.40 493.97 C479.08 493.73 480.75 493.50 482.43 493.28 C484.10 493.05 485.78 492.82 487.46 492.60 C489.13 492.37 490.81 492.15 492.49 491.92 C494.16 491.69 495.84 491.47 497.52 491.24 C499.19 491.00 500.87 490.77 502.55 490.53 C504.22 490.28 505.90 490.04 507.58 489.78 C509.25 489.52 510.93 489.26 512.61 488.98 C514.28 488.70 515.96 488.42 517.63 488.12 C519.31 487.82 520.99 487.50 522.66 487.17 C524.34 486.85 526.02 486.50 527.69 486.14 C529.37 485.78 531.05 485.40 532.72 485.00 C534.40 484.60 536.08 484.19 537.75 483.75 C539.43 483.30 541.11 482.84 542.78 482.36 C544.46 481.87 546.14 481.36 547.81 480.82 C549.49 480.28 551.16 479.72 552.84 479.12 C554.52 478.53 556.19 477.91 557.87 477.25 C559.55 476.60 562.06 475.54 562.90 475.20"/>
<path class="d" d="M73.40 838.80 L173.75 803.50  C174.58 803.09 177.08 801.88 178.74 801.03 C180.40 800.19 182.07 799.31 183.73 798.42 C185.39 797.52 187.05 796.61 188.72 795.67 C190.38 794.73 192.04 793.78 193.71 792.81 C195.37 791.84 197.03 790.84 198.70 789.84 C200.36 788.84 202.02 787.82 203.68 786.80 C205.35 785.77 207.01 784.73 208.67 783.69 C210.34 782.64 212.00 781.59 213.66 780.53 C215.33 779.47 216.99 778.41 218.65 777.34 C220.31 776.27 221.98 775.20 223.64 774.14 C225.30 773.07 226.97 772.00 228.63 770.93 C230.29 769.87 231.96 768.80 233.62 767.75 C235.28 766.69 236.95 765.64 238.61 764.60 C240.27 763.56 241.93 762.52 243.60 761.50 C245.26 760.48 246.92 759.47 248.59 758.48 C250.25 757.48 251.91 756.50 253.58 755.54 C255.24 754.57 256.90 753.62 258.56 752.70 C260.23 751.77 261.89 750.86 263.55 749.98 C265.22 749.10 266.88 748.23 268.54 747.40 C270.21 746.56 271.87 745.75 273.53 744.97 C275.20 744.19 276.86 743.44 278.52 742.71 C280.18 741.98 281.85 741.30 283.51 740.59 C285.17 739.87 286.84 739.18 288.50 738.43 C290.16 737.67 291.83 736.91 293.49 736.06 C295.15 735.21 296.81 734.32 298.48 733.30 C300.14 732.29 301.80 731.21 303.47 729.98 C305.13 728.75 306.79 727.43 308.46 725.92 C310.12 724.41 311.78 722.76 313.44 720.93 C315.11 719.10 316.77 717.08 318.43 714.93 C320.10 712.78 321.76 710.45 323.42 708.01 C325.09 705.57 326.75 702.97 328.41 700.28 C330.08 697.60 331.74 694.77 333.40 691.89 C335.06 689.01 336.73 686.01 338.39 682.99 C340.05 679.97 341.72 676.86 343.38 673.77 C345.04 670.68 346.71 667.54 348.37 664.44 C350.03 661.34 351.69 658.22 353.36 655.17 C355.02 652.12 356.68 649.11 358.35 646.15 C360.01 643.19 361.67 640.27 363.34 637.41 C365.00 634.55 366.66 631.74 368.32 628.99 C369.99 626.23 371.65 623.53 373.31 620.88 C374.98 618.24 376.64 615.65 378.30 613.12 C379.97 610.59 381.63 608.11 383.29 605.70 C384.96 603.29 386.62 600.94 388.28 598.65 C389.94 596.36 391.61 594.14 393.27 591.98 C394.93 589.83 396.60 587.73 398.26 585.71 C399.92 583.69 401.59 581.73 403.25 579.85 C404.91 577.96 406.57 576.15 408.24 574.41 C409.90 572.67 411.56 571.00 413.23 569.42 C414.89 567.83 416.55 566.31 418.22 564.88 C419.88 563.45 421.54 562.10 423.21 560.83 C424.87 559.56 426.53 558.38 428.19 557.28 C429.86 556.18 431.52 555.18 433.18 554.25 C434.85 553.33 436.51 552.51 438.17 551.75 C439.84 550.99 441.50 550.32 443.16 549.70 C444.82 549.08 446.49 548.54 448.15 548.04 C449.81 547.54 451.48 547.10 453.14 546.69 C454.80 546.29 456.47 545.93 458.13 545.59 C459.79 545.26 461.45 544.96 463.12 544.68 C464.78 544.40 466.44 544.15 468.11 543.92 C469.77 543.69 471.43 543.48 473.10 543.29 C474.76 543.10 476.42 542.94 478.09 542.78 C479.75 542.62 481.41 542.48 483.07 542.35 C484.74 542.21 486.40 542.09 488.06 541.98 C489.73 541.86 491.39 541.76 493.05 541.65 C494.72 541.54 496.38 541.44 498.04 541.34 C499.70 541.23 501.37 541.13 503.03 541.02 C504.69 540.91 506.36 540.79 508.02 540.67 C509.68 540.55 511.35 540.41 513.01 540.27 C514.67 540.14 516.34 539.99 518.00 539.84 C519.66 539.70 521.32 539.54 522.99 539.39 C524.65 539.24 526.31 539.09 527.98 538.93 C529.64 538.78 531.30 538.63 532.97 538.48 C534.63 538.33 536.29 538.19 537.95 538.05 C539.62 537.91 541.28 537.78 542.94 537.65 C544.61 537.53 546.27 537.41 547.93 537.31 C549.60 537.20 551.26 537.10 552.92 537.02 C554.58 536.94 556.25 536.87 557.91 536.82 C559.57 536.76 562.07 536.72 562.90 536.70"/>
<path class="s" d="M73.40 838.80 L172.50 792.25  C173.33 791.80 175.82 790.54 177.48 789.57 C179.15 788.60 180.81 787.53 182.47 786.42 C184.13 785.31 185.79 784.11 187.45 782.88 C189.12 781.65 190.78 780.35 192.44 779.02 C194.10 777.69 195.76 776.31 197.42 774.91 C199.09 773.51 200.75 772.07 202.41 770.63 C204.07 769.18 205.73 767.71 207.39 766.25 C209.06 764.78 210.72 763.30 212.38 761.84 C214.04 760.38 215.70 758.91 217.36 757.48 C219.02 756.04 220.69 754.62 222.35 753.24 C224.01 751.86 225.67 750.50 227.33 749.19 C228.99 747.88 230.66 746.62 232.32 745.39 C233.98 744.17 235.64 743.00 237.30 741.86 C238.96 740.72 240.63 739.63 242.29 738.57 C243.95 737.52 245.61 736.50 247.27 735.52 C248.93 734.54 250.60 733.60 252.26 732.70 C253.92 731.79 255.58 730.93 257.24 730.09 C258.90 729.26 260.56 728.46 262.23 727.69 C263.89 726.92 265.55 726.19 267.21 725.48 C268.87 724.78 270.53 724.11 272.20 723.46 C273.86 722.82 275.52 722.21 277.18 721.61 C278.84 721.02 280.50 720.47 282.17 719.91 C283.83 719.34 285.49 718.80 287.15 718.20 C288.81 717.61 290.47 717.01 292.14 716.34 C293.80 715.66 295.46 714.96 297.12 714.14 C298.78 713.33 300.44 712.46 302.11 711.45 C303.77 710.44 305.43 709.35 307.09 708.09 C308.75 706.83 310.41 705.46 312.07 703.90 C313.74 702.33 315.40 700.63 317.06 698.70 C318.72 696.77 320.38 694.67 322.04 692.34 C323.71 690.01 325.37 687.40 327.03 684.71 C328.69 682.02 330.35 679.09 332.01 676.19 C333.68 673.29 335.34 670.27 337.00 667.31 C338.66 664.34 340.32 661.37 341.98 658.40 C343.65 655.43 345.31 652.46 346.97 649.50 C348.63 646.54 350.29 643.59 351.95 640.64 C353.61 637.70 355.28 634.76 356.94 631.84 C358.60 628.93 360.26 626.02 361.92 623.13 C363.58 620.25 365.25 617.38 366.91 614.53 C368.57 611.69 370.23 608.87 371.89 606.09 C373.55 603.31 375.22 600.55 376.88 597.84 C378.54 595.13 380.20 592.44 381.86 589.82 C383.52 587.19 385.19 584.59 386.85 582.06 C388.51 579.53 390.17 577.04 391.83 574.61 C393.49 572.19 395.15 569.82 396.82 567.51 C398.48 565.21 400.14 562.96 401.80 560.79 C403.46 558.62 405.12 556.52 406.79 554.50 C408.45 552.48 410.11 550.52 411.77 548.66 C413.43 546.80 415.09 545.02 416.76 543.34 C418.42 541.66 420.08 540.06 421.74 538.58 C423.40 537.09 425.06 535.70 426.73 534.42 C428.39 533.15 430.05 531.98 431.71 530.93 C433.37 529.88 435.03 528.97 436.69 528.14 C438.36 527.31 440.02 526.60 441.68 525.95 C443.34 525.31 445.00 524.76 446.66 524.26 C448.33 523.76 449.99 523.33 451.65 522.93 C453.31 522.53 454.97 522.18 456.63 521.84 C458.30 521.49 459.96 521.17 461.62 520.86 C463.28 520.55 464.94 520.26 466.60 519.97 C468.27 519.69 469.93 519.42 471.59 519.16 C473.25 518.89 474.91 518.64 476.57 518.40 C478.24 518.16 479.90 517.93 481.56 517.70 C483.22 517.48 484.88 517.26 486.54 517.05 C488.20 516.84 489.87 516.63 491.53 516.43 C493.19 516.23 494.85 516.04 496.51 515.84 C498.17 515.65 499.84 515.46 501.50 515.27 C503.16 515.09 504.82 514.90 506.48 514.72 C508.14 514.53 509.81 514.35 511.47 514.16 C513.13 513.97 514.79 513.79 516.45 513.60 C518.11 513.40 519.78 513.21 521.44 513.02 C523.10 512.82 524.76 512.62 526.42 512.41 C528.08 512.20 529.74 511.99 531.41 511.77 C533.07 511.55 534.73 511.32 536.39 511.09 C538.05 510.85 539.71 510.61 541.38 510.35 C543.04 510.10 544.70 509.84 546.36 509.56 C548.02 509.28 549.68 509.00 551.35 508.70 C553.01 508.40 554.67 508.08 556.33 507.75 C557.99 507.43 559.65 507.08 561.32 506.72 C562.98 506.37 565.47 505.79 566.30 505.60"/>
</g>
<g id="panel4">
<path class="ax" d="M673.00 464.00 V849.20 H1200.00"/>
<path class="ax" d="M673.00 474.20 h-6.60 M673.00 573.00 h-6.60 M673.00 651.50 h-6.60 M673.00 785.50 h-6.60 M783.20 849.20 v6.60 M856.40 849.20 v6.60 M957.20 849.20 v6.60 M1056.80 849.20 v6.60 M1157.10 849.20 v6.60 M1189.20 849.20 v6.60"/>
<text class="t" x="663.30" y="480.80" text-anchor="end">5.0</text>
<text class="t" x="663.30" y="579.60" text-anchor="end">3.0</text>
<text class="t" x="663.30" y="658.10" text-anchor="end">2.0</text>
<text class="t" x="663.30" y="792.10" text-anchor="end">1.0</text>
<text class="t" x="783.20" y="874.20" text-anchor="middle">3</text>
<text class="t" x="856.40" y="874.20" text-anchor="middle">5</text>
<text class="t" x="957.20" y="874.20" text-anchor="middle">10</text>
<text class="t" x="1056.80" y="874.20" text-anchor="middle">20</text>
<text class="t" x="1157.10" y="874.20" text-anchor="middle">40</text>
<text class="t" x="1189.20" y="874.20" text-anchor="middle">50</text>
<text class="l" transform="translate(936.50 888.50) scale(1.0320 1)" text-anchor="middle">cTnT (ng/l)</text>
<text class="l" transform="translate(631.20 656.50) rotate(-90) scale(1.0320 1)" text-anchor="middle">Hazard ratio for CVD (adjusted)</text>
<path class="d" d="M682.10 785.10 L782.50 774.40  C783.34 774.20 785.85 773.58 787.52 773.17 C789.20 772.77 790.87 772.38 792.54 771.99 C794.22 771.60 795.89 771.23 797.57 770.85 C799.24 770.48 800.92 770.12 802.59 769.76 C804.26 769.41 805.94 769.06 807.61 768.72 C809.29 768.38 810.96 768.05 812.63 767.73 C814.31 767.41 815.98 767.10 817.66 766.80 C819.33 766.49 821.01 766.20 822.68 765.91 C824.35 765.63 826.03 765.35 827.70 765.09 C829.38 764.82 831.05 764.57 832.73 764.32 C834.40 764.07 836.07 763.84 837.75 763.61 C839.42 763.39 841.10 763.17 842.77 762.97 C844.44 762.76 846.12 762.57 847.79 762.38 C849.47 762.20 851.14 762.02 852.81 761.84 C854.49 761.66 856.16 761.49 857.84 761.30 C859.51 761.12 861.19 760.93 862.86 760.73 C864.53 760.52 866.21 760.31 867.88 760.07 C869.56 759.83 871.23 759.58 872.90 759.29 C874.58 759.01 876.25 758.70 877.93 758.35 C879.60 758.01 881.28 757.64 882.95 757.22 C884.62 756.80 886.30 756.34 887.97 755.84 C889.65 755.33 891.32 754.79 893.00 754.18 C894.67 753.57 896.34 752.91 898.02 752.20 C899.69 751.49 901.37 750.72 903.04 749.93 C904.71 749.14 906.39 748.29 908.06 747.43 C909.74 746.58 911.41 745.68 913.09 744.78 C914.76 743.89 916.43 742.96 918.11 742.05 C919.78 741.13 921.46 740.21 923.13 739.30 C924.80 738.39 926.48 737.49 928.15 736.61 C929.83 735.73 931.50 734.87 933.17 734.05 C934.85 733.23 936.52 732.43 938.20 731.68 C939.87 730.94 941.55 730.24 943.22 729.57 C944.89 728.90 946.57 728.28 948.24 727.66 C949.92 727.04 951.59 726.46 953.26 725.87 C954.94 725.28 956.61 724.70 958.29 724.11 C959.96 723.52 961.64 722.93 963.31 722.30 C964.98 721.68 966.66 721.04 968.33 720.37 C970.01 719.70 971.68 719.00 973.36 718.28 C975.03 717.55 976.70 716.80 978.38 716.03 C980.05 715.25 981.73 714.45 983.40 713.63 C985.07 712.80 986.75 711.96 988.42 711.08 C990.10 710.21 991.77 709.31 993.44 708.39 C995.12 707.47 996.79 706.53 998.47 705.57 C1000.14 704.61 1001.82 703.63 1003.49 702.64 C1005.16 701.65 1006.84 700.64 1008.51 699.63 C1010.19 698.61 1011.86 697.58 1013.53 696.55 C1015.21 695.51 1016.88 694.47 1018.56 693.43 C1020.23 692.39 1021.91 691.34 1023.58 690.29 C1025.25 689.25 1026.93 688.20 1028.60 687.16 C1030.28 686.12 1031.95 685.08 1033.62 684.06 C1035.30 683.03 1036.97 682.01 1038.65 681.01 C1040.32 680.00 1042.00 679.01 1043.67 678.03 C1045.34 677.05 1047.02 676.09 1048.69 675.15 C1050.37 674.21 1052.04 673.29 1053.71 672.39 C1055.39 671.49 1057.06 670.62 1058.74 669.76 C1060.41 668.89 1062.09 668.06 1063.76 667.22 C1065.43 666.39 1067.11 665.58 1068.78 664.77 C1070.46 663.95 1072.13 663.15 1073.80 662.35 C1075.48 661.55 1077.15 660.76 1078.83 659.96 C1080.50 659.16 1082.18 658.36 1083.85 657.55 C1085.52 656.74 1087.20 655.93 1088.87 655.10 C1090.55 654.27 1092.22 653.44 1093.89 652.59 C1095.57 651.73 1097.24 650.86 1098.92 649.97 C1100.59 649.08 1102.27 648.17 1103.94 647.24 C1105.61 646.30 1107.29 645.34 1108.96 644.35 C1110.64 643.36 1112.31 642.35 1113.98 641.31 C1115.66 640.27 1117.33 639.20 1119.01 638.10 C1120.68 637.00 1122.36 635.87 1124.03 634.71 C1125.70 633.55 1127.38 632.36 1129.05 631.14 C1130.73 629.91 1132.40 628.66 1134.07 627.36 C1135.75 626.07 1137.42 624.75 1139.10 623.38 C1140.77 622.02 1142.45 620.62 1144.12 619.19 C1145.79 617.75 1147.47 616.28 1149.14 614.76 C1150.82 613.25 1152.49 611.70 1154.16 610.10 C1155.84 608.51 1157.51 606.87 1159.19 605.19 C1160.86 603.51 1162.54 601.79 1164.21 600.03 C1165.88 598.26 1167.56 596.45 1169.23 594.59 C1170.91 592.74 1172.58 590.84 1174.25 588.89 C1175.93 586.94 1177.60 584.94 1179.28 582.89 C1180.95 580.84 1183.46 577.65 1184.30 576.60"/>
<path class="d" d="M682.10 785.10 L782.50 812.50  C783.34 812.87 785.84 814.01 787.52 814.75 C789.19 815.49 790.86 816.22 792.53 816.95 C794.20 817.68 795.88 818.40 797.55 819.13 C799.22 819.85 800.89 820.57 802.56 821.29 C804.23 822.01 805.91 822.72 807.58 823.44 C809.25 824.17 810.92 824.89 812.59 825.62 C814.27 826.35 815.94 827.08 817.61 827.82 C819.28 828.56 820.95 829.31 822.62 830.06 C824.30 830.80 825.97 831.56 827.64 832.28 C829.31 832.99 830.98 833.71 832.66 834.35 C834.33 835.00 836.00 835.62 837.67 836.15 C839.34 836.68 841.02 837.17 842.69 837.54 C844.36 837.92 846.03 838.21 847.70 838.41 C849.38 838.61 851.05 838.70 852.72 838.72 C854.39 838.73 856.06 838.66 857.73 838.51 C859.41 838.37 861.08 838.14 862.75 837.86 C864.42 837.57 866.09 837.21 867.77 836.80 C869.44 836.40 871.11 835.92 872.78 835.41 C874.45 834.89 876.12 834.32 877.80 833.72 C879.47 833.12 881.14 832.47 882.81 831.80 C884.48 831.13 886.16 830.43 887.83 829.71 C889.50 828.99 891.17 828.24 892.84 827.48 C894.52 826.73 896.19 825.95 897.86 825.17 C899.53 824.39 901.20 823.60 902.88 822.80 C904.55 822.01 906.22 821.21 907.89 820.41 C909.56 819.61 911.23 818.81 912.91 818.02 C914.58 817.23 916.25 816.44 917.92 815.66 C919.59 814.89 921.27 814.12 922.94 813.37 C924.61 812.62 926.28 811.88 927.95 811.14 C929.62 810.40 931.30 809.67 932.97 808.94 C934.64 808.20 936.31 807.47 937.98 806.73 C939.66 805.99 941.33 805.25 943.00 804.50 C944.67 803.74 946.34 802.97 948.02 802.20 C949.69 801.43 951.36 800.64 953.03 799.88 C954.70 799.11 956.38 798.34 958.05 797.60 C959.72 796.86 961.39 796.13 963.06 795.44 C964.73 794.75 966.41 794.09 968.08 793.48 C969.75 792.87 971.42 792.30 973.09 791.79 C974.77 791.27 976.44 790.82 978.11 790.38 C979.78 789.95 981.45 789.57 983.12 789.19 C984.80 788.82 986.47 788.48 988.14 788.14 C989.81 787.81 991.48 787.49 993.16 787.16 C994.83 786.83 996.50 786.50 998.17 786.16 C999.84 785.81 1001.52 785.46 1003.19 785.09 C1004.86 784.71 1006.53 784.33 1008.20 783.93 C1009.88 783.54 1011.55 783.12 1013.22 782.70 C1014.89 782.27 1016.56 781.84 1018.23 781.38 C1019.91 780.93 1021.58 780.47 1023.25 779.99 C1024.92 779.51 1026.59 779.01 1028.27 778.51 C1029.94 778.00 1031.61 777.48 1033.28 776.94 C1034.95 776.41 1036.62 775.86 1038.30 775.30 C1039.97 774.73 1041.64 774.16 1043.31 773.56 C1044.98 772.97 1046.66 772.37 1048.33 771.75 C1050.00 771.13 1051.67 770.49 1053.34 769.84 C1055.02 769.20 1056.69 768.53 1058.36 767.85 C1060.03 767.18 1061.70 766.48 1063.38 765.78 C1065.05 765.07 1066.72 764.35 1068.39 763.61 C1070.06 762.88 1071.73 762.13 1073.41 761.36 C1075.08 760.60 1076.75 759.81 1078.42 759.02 C1080.09 758.22 1081.77 757.41 1083.44 756.59 C1085.11 755.76 1086.78 754.92 1088.45 754.07 C1090.12 753.21 1091.80 752.34 1093.47 751.45 C1095.14 750.57 1096.81 749.67 1098.48 748.75 C1100.16 747.84 1101.83 746.90 1103.50 745.96 C1105.17 745.02 1106.84 744.06 1108.52 743.09 C1110.19 742.12 1111.86 741.14 1113.53 740.15 C1115.20 739.16 1116.88 738.16 1118.55 737.15 C1120.22 736.15 1121.89 735.13 1123.56 734.11 C1125.23 733.09 1126.91 732.06 1128.58 731.03 C1130.25 730.00 1131.92 728.97 1133.59 727.93 C1135.27 726.89 1136.94 725.85 1138.61 724.81 C1140.28 723.77 1141.95 722.73 1143.62 721.69 C1145.30 720.65 1146.97 719.62 1148.64 718.58 C1150.31 717.54 1151.98 716.51 1153.66 715.46 C1155.33 714.42 1157.00 713.37 1158.67 712.30 C1160.34 711.23 1162.02 710.14 1163.69 709.02 C1165.36 707.91 1167.03 706.77 1168.70 705.59 C1170.38 704.41 1172.05 703.20 1173.72 701.93 C1175.39 700.67 1177.06 699.37 1178.73 698.01 C1180.41 696.64 1182.91 694.46 1183.75 693.75"/>
<path class="s" d="M682.10 785.10 L783.00 793.50  C783.84 793.60 786.35 793.88 788.02 794.09 C789.70 794.30 791.38 794.53 793.05 794.76 C794.72 795.00 796.40 795.25 798.08 795.51 C799.75 795.76 801.43 796.03 803.10 796.30 C804.77 796.56 806.45 796.83 808.12 797.10 C809.80 797.36 811.48 797.63 813.15 797.89 C814.82 798.15 816.50 798.41 818.17 798.65 C819.85 798.89 821.53 799.13 823.20 799.35 C824.88 799.57 826.55 799.78 828.23 799.96 C829.90 800.15 831.58 800.32 833.25 800.46 C834.92 800.61 836.60 800.73 838.27 800.83 C839.95 800.92 841.62 800.99 843.30 801.03 C844.97 801.07 846.65 801.07 848.33 801.04 C850.00 801.02 851.68 800.96 853.35 800.86 C855.02 800.76 856.70 800.63 858.38 800.47 C860.05 800.30 861.73 800.10 863.40 799.86 C865.07 799.62 866.75 799.35 868.42 799.04 C870.10 798.72 871.78 798.38 873.45 797.99 C875.12 797.60 876.80 797.17 878.48 796.70 C880.15 796.23 881.83 795.73 883.50 795.18 C885.17 794.63 886.85 794.04 888.52 793.41 C890.20 792.77 891.88 792.10 893.55 791.38 C895.22 790.67 896.90 789.90 898.58 789.10 C900.25 788.31 901.93 787.47 903.60 786.61 C905.27 785.76 906.95 784.87 908.62 783.97 C910.30 783.08 911.98 782.16 913.65 781.25 C915.32 780.34 917.00 779.42 918.67 778.51 C920.35 777.61 922.03 776.70 923.70 775.83 C925.38 774.95 927.05 774.09 928.73 773.25 C930.40 772.41 932.08 771.59 933.75 770.79 C935.42 769.99 937.10 769.21 938.77 768.45 C940.45 767.68 942.12 766.94 943.80 766.20 C945.47 765.47 947.15 764.75 948.83 764.05 C950.50 763.34 952.18 762.64 953.85 761.96 C955.52 761.28 957.20 760.60 958.88 759.94 C960.55 759.27 962.23 758.61 963.90 757.96 C965.57 757.31 967.25 756.67 968.92 756.02 C970.60 755.38 972.28 754.74 973.95 754.11 C975.62 753.47 977.30 752.84 978.98 752.21 C980.65 751.57 982.33 750.94 984.00 750.31 C985.67 749.68 987.35 749.05 989.02 748.42 C990.70 747.79 992.38 747.16 994.05 746.52 C995.72 745.89 997.40 745.26 999.08 744.62 C1000.75 743.99 1002.43 743.35 1004.10 742.71 C1005.77 742.07 1007.45 741.43 1009.12 740.79 C1010.80 740.14 1012.48 739.50 1014.15 738.84 C1015.82 738.19 1017.50 737.54 1019.17 736.88 C1020.85 736.22 1022.53 735.56 1024.20 734.89 C1025.88 734.22 1027.55 733.55 1029.22 732.87 C1030.90 732.20 1032.58 731.51 1034.25 730.82 C1035.92 730.13 1037.60 729.44 1039.28 728.74 C1040.95 728.03 1042.62 727.32 1044.30 726.61 C1045.97 725.89 1047.65 725.16 1049.33 724.43 C1051.00 723.70 1052.67 722.96 1054.35 722.21 C1056.02 721.46 1057.70 720.70 1059.38 719.93 C1061.05 719.16 1062.73 718.39 1064.40 717.60 C1066.08 716.81 1067.75 716.02 1069.42 715.21 C1071.10 714.40 1072.78 713.58 1074.45 712.75 C1076.12 711.92 1077.80 711.08 1079.47 710.22 C1081.15 709.37 1082.83 708.50 1084.50 707.62 C1086.17 706.75 1087.85 705.85 1089.53 704.95 C1091.20 704.04 1092.88 703.13 1094.55 702.19 C1096.22 701.26 1097.90 700.32 1099.58 699.35 C1101.25 698.39 1102.92 697.42 1104.60 696.43 C1106.27 695.44 1107.95 694.43 1109.62 693.41 C1111.30 692.38 1112.98 691.35 1114.65 690.29 C1116.33 689.24 1118.00 688.16 1119.67 687.08 C1121.35 685.99 1123.03 684.88 1124.70 683.76 C1126.38 682.63 1128.05 681.49 1129.72 680.33 C1131.40 679.17 1133.08 677.99 1134.75 676.79 C1136.42 675.59 1138.10 674.37 1139.78 673.14 C1141.45 671.90 1143.12 670.64 1144.80 669.36 C1146.47 668.08 1148.15 666.79 1149.83 665.47 C1151.50 664.15 1153.17 662.80 1154.85 661.44 C1156.52 660.08 1158.20 658.69 1159.88 657.29 C1161.55 655.88 1163.23 654.45 1164.90 652.99 C1166.58 651.54 1168.25 650.06 1169.92 648.56 C1171.60 647.06 1173.28 645.54 1174.95 643.99 C1176.62 642.44 1178.30 640.87 1179.97 639.27 C1181.65 637.67 1184.16 635.21 1185.00 634.40"/>
</g>
</svg>
</body>
</html>
